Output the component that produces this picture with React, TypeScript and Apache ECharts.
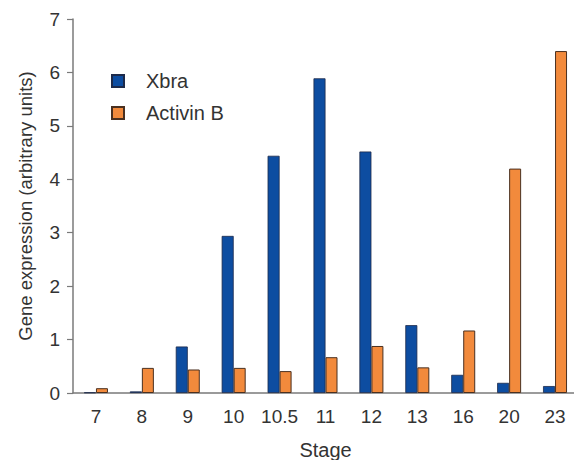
import React, { useEffect, useRef } from "react";
import * as echarts from "echarts";

const stages = ["7", "8", "9", "10", "10.5", "11", "12", "13", "16", "20", "23"];
const xbra = [0.01, 0.03, 0.87, 2.94, 4.44, 5.89, 4.52, 1.27, 0.34, 0.19, 0.13];
const activinB = [0.09, 0.47, 0.44, 0.47, 0.41, 0.67, 0.88, 0.48, 1.17, 4.2, 6.4];
const yTicks = [0, 1, 2, 3, 4, 5, 6, 7];

const FONT = "Liberation Sans, Arial, Helvetica, sans-serif";

export default function App() {
  const ref = useRef<HTMLDivElement>(null);
  useEffect(() => {
    if (!ref.current) return;
    const chart = echarts.init(ref.current, undefined, { renderer: "svg" });
    chart.setOption({
      animation: false,
      backgroundColor: "#ffffff",
      textStyle: { fontFamily: FONT },
      grid: { left: 73, top: 19, width: 505, height: 374, outerBoundsMode: "none" },
      legend: {
        orient: "vertical",
        left: 106,
        top: 65,
        itemGap: 10,
        itemWidth: 12,
        itemHeight: 12,
        icon: "rect",
        textStyle: { fontSize: 20, color: "#333", fontFamily: FONT, lineHeight: 22, padding: [0, 0, 0, 17] },
        data: ["Xbra", "Activin B"],
      },
      xAxis: {
        type: "category",
        data: stages,
        name: "Stage",
        nameLocation: "middle",
        nameGap: 47,
        nameTextStyle: { fontSize: 20, color: "#333", fontFamily: FONT },
        axisLine: { lineStyle: { color: "#7a7a7a", width: 1.5 } },
        axisTick: { show: false },
        axisLabel: { interval: 0, hideOverlap: false, fontSize: 19, color: "#333", margin: 14, fontFamily: FONT },
      },
      yAxis: {
        type: "value",
        min: yTicks[0],
        max: yTicks[yTicks.length - 1],
        interval: 1,
        name: "Gene expression (arbitrary units)",
        nameLocation: "middle",
        nameGap: 38,
        nameTextStyle: { fontSize: 18.5, color: "#333", fontFamily: FONT },
        axisLine: { show: true, lineStyle: { color: "#7a7a7a", width: 1.5 } },
        axisTick: { show: true, length: 6, lineStyle: { color: "#7a7a7a", width: 1.2 } },
        axisLabel: { fontSize: 19, color: "#333", margin: 13, fontFamily: FONT },
        splitLine: { show: false },
      },
      series: [
        {
          name: "Xbra",
          type: "bar",
          data: xbra,
          barWidth: 12,
          barGap: "0%",
          itemStyle: { color: "#0d4da1", borderColor: "#1d2a4a", borderWidth: 0.8 },
        },
        {
          name: "Activin B",
          type: "bar",
          data: activinB,
          barWidth: 12,
          barGap: "0%",
          itemStyle: { color: "#f28a3c", borderColor: "#4a3020", borderWidth: 1 },
        },
      ],
    });
    return () => chart.dispose();
  }, []);
  return (
    <div
      ref={ref}
      style={{ position: "absolute", left: 0, top: 0, width: 574, height: 460 }}
    />
  );
}
